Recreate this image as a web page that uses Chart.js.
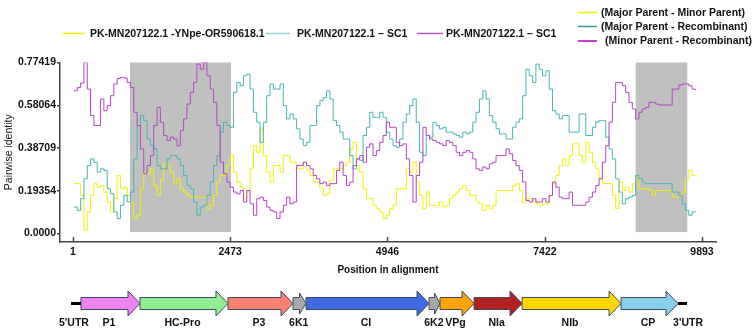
<!DOCTYPE html>
<html>
<head>
<meta charset="utf-8">
<script src="https://cdn.jsdelivr.net/npm/chart.js@4.4.1/dist/chart.umd.min.js"></script>
<style>
  body { margin: 0; background: #fff; }
  #wrap { position: relative; width: 753px; height: 333px; }
  #identityChart { position: absolute; left: 0; top: 0; }
  #genomeChart { position: absolute; left: 0; top: 280px; }
</style>
</head>
<body>
<div id="wrap">
  <canvas id="identityChart" width="753" height="280"></canvas>
  <canvas id="genomeChart" width="753" height="53"></canvas>
</div>
<script>
// alignment positions (window centres) shared by the three identity traces
const positions = [
  17,69,121,173,226,278,330,382,435,487,
  539,592,644,696,748,801,853,905,957,1010,
  1062,1114,1166,1219,1271,1323,1375,1428,1480,1532,
  1584,1637,1689,1741,1793,1846,1898,1950,2002,2055,
  2107,2159,2212,2264,2316,2368,2421,2473,2525,2577,
  2630,2682,2734,2786,2839,2891,2943,2995,3048,3100,
  3152,3204,3257,3309,3361,3413,3466,3518,3570,3622,
  3675,3727,3779,3832,3884,3936,3988,4041,4093,4145,
  4197,4250,4302,4354,4406,4459,4511,4563,4616,4668,
  4720,4772,4825,4877,4929,4981,5034,5086,5138,5190,
  5243,5295,5347,5399,5452,5504,5556,5609,5661,5713,
  5765,5818,5870,5922,5974,6027,6079,6131,6183,6236,
  6288,6340,6393,6445,6497,6549,6602,6654,6706,6758,
  6811,6863,6915,6967,7020,7072,7124,7176,7229,7281,
  7333,7386,7438,7490,7542,7595,7647,7699,7751,7804,
  7856,7908,7960,8013,8065,8117,8170,8222,8274,8326,
  8379,8431,8483,8535,8588,8640,8692,8744,8797,8849,
  8901,8953,9006,9058,9110,9163,9215,9267,9319,9372,
  9424,9476,9528,9581,9633,9685,9737,9790
];

// Major Parent - Minor Parent (yellow)
const majorMinor = [
  0.226,0.226,0.173,0.015,0.098,0.173,0.226,0.210,0.218,0.188,
  0.143,0.098,0.158,0.263,0.203,0.210,0.173,0.143,0.068,0.083,
  0.203,0.278,0.271,0.293,0.218,0.173,0.241,0.316,0.308,0.278,
  0.226,0.248,0.203,0.188,0.173,0.165,0.165,0.165,0.165,0.165,
  0.113,0.128,0.173,0.233,0.263,0.263,0.308,0.353,0.278,0.233,
  0.210,0.158,0.188,0.293,0.398,0.368,0.474,0.353,0.278,0.233,
  0.308,0.308,0.278,0.353,0.353,
  0.323,0.323,0.293,0.293,0.323,0.286,0.263,0.233,0.233,0.203,
  0.173,0.180,0.241,0.293,0.293,0.293,0.308,0.323,0.383,0.413,
  0.308,0.278,0.203,0.158,0.158,0.128,0.113,0.098,0.068,0.083,
  0.113,0.128,0.203,0.203,0.203,0.293,0.278,0.323,0.233,0.173,
  0.113,0.188,0.128,0.128,0.128,0.143,0.120,0.128,0.158,0.173,
  0.188,0.203,0.218,0.195,0.173,0.173,0.143,0.135,0.105,0.128,
  0.113,0.128,0.195,0.195,0.195,0.195,0.195,0.218,0.226,
  0.195,0.143,0.158,0.158,0.143,0.135,0.128,0.135,0.135,0.173,
  0.226,0.263,0.308,0.338,0.308,0.353,0.406,0.406,0.353,0.323,
  0.413,0.368,0.323,0.293,0.248,0.226,0.226,0.226,0.173,0.113,
  0.233,0.195,0.210,0.188,0.226,0.263,0.203,0.203,0.203,0.195,
  0.173,0.195,0.195,0.195,0.195,0.195,0.165,0.165,0.173,0.188,
  0.248,0.286,0.263,0.263
];

// Major Parent - Recombinant (teal)
const majorRecomb = [
  0.120,0.105,0.158,0.248,0.308,0.338,0.323,0.278,0.293,0.286,
  0.203,0.180,0.098,0.068,0.128,0.173,0.143,0.188,0.338,0.489,
  0.534,0.511,0.428,0.398,0.383,0.308,0.293,0.293,0.338,0.353,
  0.353,0.338,0.308,0.263,0.218,0.203,0.143,0.083,0.120,0.128,
  0.173,0.233,0.308,0.353,0.459,0.504,0.489,0.481,0.639,0.684,
  0.669,0.714,0.722,0.654,0.549,0.504,0.413,0.504,0.624,0.677,
  0.654,0.654,0.677,0.579,0.519,
  0.541,0.519,0.474,0.428,0.398,0.413,0.489,0.489,0.579,0.601,
  0.616,0.646,0.609,0.511,0.489,0.459,0.428,0.428,0.353,0.293,
  0.338,0.331,0.444,0.481,0.549,0.526,0.526,0.549,0.526,0.459,
  0.428,0.398,0.391,0.428,0.504,0.541,0.579,0.609,0.504,0.368,
  0.353,0.444,0.436,0.504,0.489,0.474,0.481,0.459,0.459,0.451,
  0.444,0.436,0.459,0.451,0.459,0.504,0.549,0.609,0.646,0.609,
  0.534,0.504,0.474,0.451,0.451,0.428,0.428,0.481,0.504,
  0.519,0.624,0.744,0.714,0.684,0.767,0.744,0.714,0.737,0.654,
  0.556,0.541,0.519,0.534,0.534,0.459,0.459,0.459,0.541,0.541,
  0.444,0.444,0.481,0.504,0.511,0.511,0.436,0.383,0.338,0.248,
  0.188,0.135,0.158,0.165,0.173,0.263,0.248,0.233,0.226,0.226,
  0.226,0.226,0.226,0.226,0.226,0.226,0.188,0.188,0.173,0.135,
  0.105,0.083,0.098,0.101
];

// Minor Parent - Recombinant (magenta)
const minorRecomb = [
  0.646,0.661,0.681,0.774,0.654,0.534,0.489,0.489,0.609,0.556,
  0.579,0.624,0.677,0.702,0.707,0.704,0.684,0.661,0.549,0.489,
  0.383,0.271,0.308,0.353,0.489,0.571,0.504,0.444,0.421,0.436,
  0.428,0.398,0.466,0.519,0.586,0.639,0.684,0.767,0.744,0.774,
  0.714,0.654,0.594,0.489,0.323,0.271,0.233,0.210,0.188,0.180,
  0.195,0.143,0.195,0.135,0.083,0.158,0.165,0.150,0.120,0.105,
  0.098,0.068,0.098,0.128,0.165,
  0.135,0.143,0.308,0.308,0.323,0.308,0.293,0.263,0.248,0.226,
  0.233,0.218,0.226,0.226,0.286,0.323,0.263,0.218,0.233,0.308,
  0.338,0.353,0.323,0.391,0.406,0.353,0.376,0.413,0.444,0.504,
  0.481,0.481,0.413,0.398,0.406,0.338,0.263,0.143,0.263,0.323,
  0.481,0.444,0.428,0.421,0.413,0.406,0.398,0.421,0.413,0.398,
  0.368,0.353,0.368,0.376,0.368,0.338,0.293,0.286,0.301,0.293,
  0.316,0.323,0.353,0.353,0.353,0.383,0.361,0.331,0.308,
  0.286,0.233,0.150,0.143,0.158,0.143,0.143,0.158,0.143,0.173,
  0.233,0.210,0.165,0.158,0.158,0.188,0.128,0.128,0.128,0.128,
  0.143,0.165,0.188,0.218,0.248,0.323,0.398,0.504,0.594,0.684,
  0.684,0.669,0.639,0.594,0.564,0.519,0.549,0.564,0.571,0.594,
  0.594,0.586,0.582,0.582,0.582,0.582,0.654,0.654,0.672,0.677,
  0.677,0.669,0.654,0.649
];

const xTickValues = [1, 2473, 4946, 7422, 9893];
const yTickValues = [0, 0.19354, 0.38709, 0.58064, 0.77419];
const yTickLabels = ['0.0000', '0.19354', '0.38709', '0.58064', '0.77419'];

// recombination regions (grey boxes)
const recombStarts = [897, 8850];
const recombEnds = [2486, 9662];

const seqLabels = ['PK-MN207122.1 -YNpe-OR590618.1', 'PK-MN207122.1 \u2013 SC1', 'PK-MN207122.1 \u2013 SC1'];
const pairLabels = ['(Major Parent - Minor Parent)', '(Major Parent - Recombinant)', '(Minor Parent - Recombinant)'];

// genome map (schematic units)
const geneNames = ['P1', 'HC-Pro', 'P3', '6K1', 'CI', '6K2', 'VPg', 'NIa', 'NIb', 'CP'];
const geneStarts = [177, 1129, 2548, 3597, 3807, 5791, 5968, 6517, 7291, 8888];
const geneEnds = [1129, 2548, 3597, 3807, 5791, 5968, 6517, 7291, 8888, 9807];
const utrNames = ["5'UTR", "3'UTR"];
const utrStarts = [16, 9807];
const utrEnds = [177, 9952];

const SANS = "'Liberation Sans', Arial, sans-serif";
const AXIS = '#444';

const toPoints = values => positions.map((p, i) => ({x: p, y: values[i]}));

const recombBoxes = {
    id: 'recombBoxes',
    beforeDatasetsDraw(chart) {
        const {ctx, scales: {x, y}} = chart;
        ctx.save();
        ctx.fillStyle = '#c0c0c0';
        const top = y.getPixelForValue(0.7742);
        const bottom = y.getPixelForValue(0.007);
        recombStarts.forEach((s, i) => {
            const left = x.getPixelForValue(s);
            const right = x.getPixelForValue(recombEnds[i]);
            ctx.fillRect(left, top, right - left, bottom - top);
        });
        ctx.restore();
    }
};

const extras = {
    id: 'extras',
    afterDraw(chart) {
        const {ctx, chartArea, scales: {x}} = chart;
        ctx.save();
        // inward x ticks
        ctx.strokeStyle = AXIS;
        ctx.lineWidth = 1.5;
        xTickValues.forEach(v => {
            const px = Math.round(x.getPixelForValue(v)) + 0.5;
            ctx.beginPath();
            ctx.moveTo(px, chartArea.bottom);
            ctx.lineTo(px, chartArea.bottom - 5);
            ctx.stroke();
        });

        // top legend
        ctx.font = `bold 10.5px ${SANS}`;
        ctx.textBaseline = 'middle';
        ctx.textAlign = 'left';
        const topColors = ['#f2f200', '#8fd6d6', '#c050c8'];
        const topLines = [[63, 85, 90], [266, 290, 297], [417, 443, 446]];
        seqLabels.forEach((t, i) => {
            const [a, b, tx] = topLines[i];
            ctx.strokeStyle = topColors[i];
            ctx.lineWidth = 1.5;
            ctx.beginPath();
            ctx.moveTo(a, 33.5);
            ctx.lineTo(b, 33.5);
            ctx.stroke();
            ctx.fillStyle = '#111';
            ctx.fillText(t, tx, 34.5);
        });

        // right legend
        const pairColors = ['#f0f000', '#2a9d9d', '#b000b8'];
        const pairY = [12.5, 26.5, 41];
        const pairX = [601, 601, 605];
        pairLabels.forEach((t, i) => {
            ctx.strokeStyle = pairColors[i];
            ctx.lineWidth = 1.5;
            ctx.beginPath();
            ctx.moveTo(578, pairY[i]);
            ctx.lineTo(597, pairY[i]);
            ctx.stroke();
            ctx.fillStyle = '#111';
            ctx.fillText(t, pairX[i], pairY[i] + 0.5);
        });
        ctx.restore();
    }
};

new Chart(document.getElementById('identityChart'), {
    type: 'line',
    data: {
        datasets: [
            { label: pairLabels[2], data: toPoints(minorRecomb), borderColor: '#b445c4', borderWidth: 1, pointRadius: 0, stepped: true, fill: false },
            { label: pairLabels[1], data: toPoints(majorRecomb), borderColor: '#45b6b6', borderWidth: 1, pointRadius: 0, stepped: true, fill: false },
            { label: pairLabels[0], data: toPoints(majorMinor), borderColor: '#f2f200', borderWidth: 1, pointRadius: 0, stepped: true, fill: false },
        ]
    },
    options: {
        responsive: false,
        animation: false,
        events: [],
        layout: { padding: { top: 62.5, left: 0, right: 37, bottom: 0 } },
        plugins: { legend: { display: false }, tooltip: { enabled: false } },
        scales: {
            x: {
                type: 'linear',
                min: -203,
                max: 10113,
                afterBuildTicks: s => { s.ticks = xTickValues.map(v => ({ value: v })); },
                afterFit: s => { s.height = 38; },
                ticks: {
                    callback: (v, i) => String(xTickValues[i]),
                    font: { family: SANS, size: 10.5, weight: 'bold' },
                    color: '#111',
                    padding: 4,
                    maxRotation: 0,
                    autoSkip: false
                },
                grid: { display: false, drawTicks: false },
                border: { color: AXIS, width: 1.5 },
                title: {
                    display: true,
                    text: 'Position in alignment',
                    font: { family: SANS, size: 10, weight: 'bold' },
                    color: '#111',
                    padding: { top: 0, bottom: 4 }
                }
            },
            y: {
                min: -0.038,
                max: 0.77419,
                afterBuildTicks: s => { s.ticks = yTickValues.map(v => ({ value: v })); },
                afterFit: s => { s.width = 60; },
                ticks: {
                    callback: (v, i) => yTickLabels[i],
                    font: { family: SANS, size: 10.5, weight: 'bold' },
                    color: '#111',
                    padding: 1
                },
                grid: { drawOnChartArea: false, drawTicks: true, tickLength: 3, color: AXIS, lineWidth: 1.5 },
                border: { color: AXIS, width: 1.5 },
                title: {
                    display: true,
                    text: 'Pairwise identity',
                    font: { family: SANS, size: 10.5 },
                    color: '#111',
                    padding: { top: 3, bottom: 0 }
                }
            }
        }
    },
    plugins: [recombBoxes, extras]
});

const geneColors = ['#ee82ee', '#90ee90', '#fa8072', '#a9a9a9', '#4169e1', '#a9a9a9', '#ffa500', '#b22222', '#ffd700', '#87ceeb'];

const genomeArrows = {
    id: 'genomeArrows',
    afterDatasetsDraw(chart) {
        const {ctx, scales: {x}} = chart;
        ctx.save();
        let cy = 23.5;
        ctx.font = `bold 10.5px ${SANS}`;
        ctx.textBaseline = 'middle';
        ctx.textAlign = 'center';
        chart.data.datasets.forEach((ds, i) => {
            const bar = chart.getDatasetMeta(i).data[0];
            const x0 = bar.base, x1 = bar.x;
            cy = bar.y;
            const len = x1 - x0;
            const head = Math.min(12, len / 2);
            const headHalf = len > 20 ? 12.5 : 10.5;
            const bodyHalf = 6;
            ctx.beginPath();
            ctx.moveTo(x0, cy - bodyHalf);
            ctx.lineTo(x1 - head, cy - bodyHalf);
            ctx.lineTo(x1 - head, cy - headHalf);
            ctx.lineTo(x1, cy);
            ctx.lineTo(x1 - head, cy + headHalf);
            ctx.lineTo(x1 - head, cy + bodyHalf);
            ctx.lineTo(x0, cy + bodyHalf);
            ctx.closePath();
            ctx.fillStyle = geneColors[i];
            ctx.fill();
            ctx.strokeStyle = '#3d4b5c';
            ctx.lineWidth = 1;
            ctx.stroke();
            ctx.fillStyle = '#111';
            ctx.fillText(ds.label, (x0 + x1 - head / 4) / 2, cy + 20);
        });
        // UTR stubs
        utrNames.forEach((name, i) => {
            const a = x.getPixelForValue(utrStarts[i]);
            const b = x.getPixelForValue(utrEnds[i]);
            ctx.fillStyle = '#000';
            ctx.fillRect(a, cy - 1.5, b - a, 3);
            ctx.fillStyle = '#111';
            ctx.fillText(name, i === 0 ? (a + b) / 2 - 2 : b + 1, cy + 20);
        });
        ctx.restore();
    }
};

new Chart(document.getElementById('genomeChart'), {
    type: 'bar',
    data: {
        labels: ['genome'],
        datasets: geneNames.map((name, i) => ({
            label: name,
            data: [[geneStarts[i], geneEnds[i]]],
            backgroundColor: 'rgba(0,0,0,0)',
            borderWidth: 0,
            grouped: false
        }))
    },
    options: {
        indexAxis: 'y',
        responsive: false,
        animation: false,
        events: [],
        layout: { padding: { left: 70, right: 63, top: 11, bottom: 17 } },
        plugins: { legend: { display: false }, tooltip: { enabled: false } },
        scales: {
            x: { type: 'linear', min: 0, max: 10000, display: false },
            y: { display: false }
        }
    },
    plugins: [genomeArrows]
});
</script>
</body>
</html>
